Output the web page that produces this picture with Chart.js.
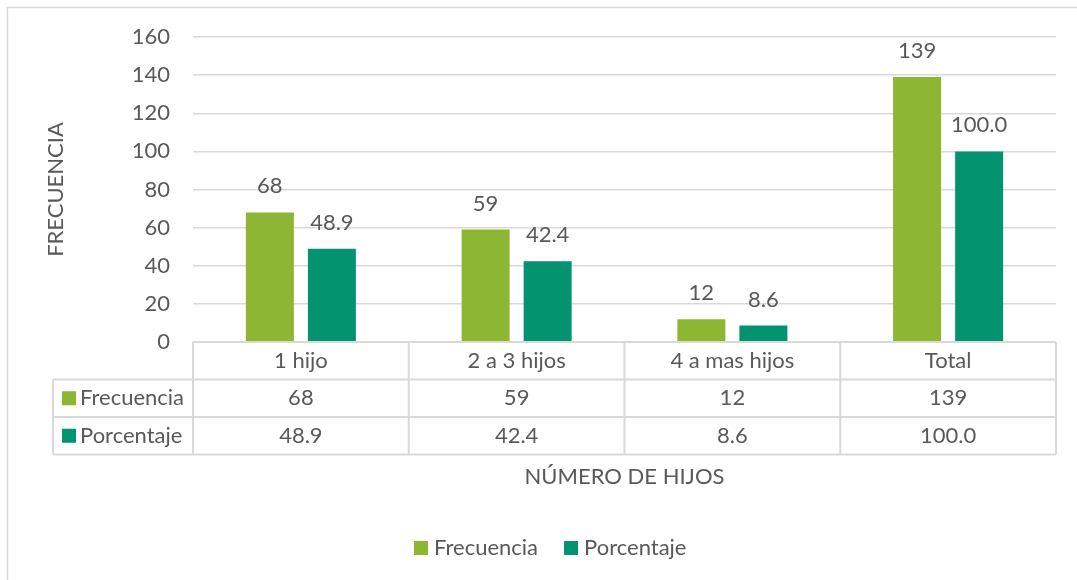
<!DOCTYPE html>
<html>
<head>
<meta charset="utf-8">
<script src="https://cdn.jsdelivr.net/npm/chart.js@4.4.1/dist/chart.umd.min.js"></script>
<style>
  html, body { margin: 0; padding: 0; background: #ffffff; }
  #wrap { width: 1077px; height: 580px; position: relative; }
</style>
</head>
<body>
<div id="wrap"><canvas id="hijosChart" width="1077" height="580"></canvas></div>
<script>
// data
const categories = ['1 hijo', '2 a 3 hijos', '4 a mas hijos', 'Total'];
const frecuencia = [68, 59, 12, 139];
const porcentaje = [48.9, 42.4, 8.6, 100.0];
const seriesNames = ['Frecuencia', 'Porcentaje'];
const yMin = 0;
const yMax = 160;
const yStep = 20;

const GREEN = '#8db733';
const TEAL = '#03946f';
const TEXT = '#595959';
const LINE = '#d9d9d9';
const FONT = 'Lato, "Open Sans", sans-serif';
const FSIZE = 22;

function fmt(dsIndex, v) {
    return dsIndex === 1 ? v.toFixed(1) : String(v);
}

// draws the frame, value labels, data table, x title and legend
const extrasPlugin = {
    id: 'extras',
    afterDraw(chart) {
        const ctx = chart.ctx;
        const area = chart.chartArea;
        const xs = chart.scales.x;
        const catW = (area.right - area.left) / categories.length;
        ctx.save();

        // outer frame (right/bottom edges fall outside the picture)
        ctx.strokeStyle = LINE;
        ctx.lineWidth = 1.5;
        ctx.strokeRect(7.5, 7.5, 1200, 700);

        ctx.font = FSIZE + 'px ' + FONT;
        ctx.fillStyle = TEXT;
        ctx.textAlign = 'center';
        ctx.textBaseline = 'middle';

        // value labels above bars
        chart.data.datasets.forEach((ds, i) => {
            chart.getDatasetMeta(i).data.forEach((bar, j) => {
                ctx.fillText(fmt(i, ds.data[j]), bar.x, bar.y - 26);
            });
        });

        // data table
        const rowH = 37.5;
        const top = area.bottom;
        const tableLeft = 53;
        ctx.strokeStyle = LINE;
        ctx.lineWidth = 2;
        ctx.beginPath();
        ctx.moveTo(area.left, top);
        ctx.lineTo(area.right, top);
        for (let r = 1; r <= 3; r++) {
            ctx.moveTo(tableLeft, top + r * rowH);
            ctx.lineTo(area.right, top + r * rowH);
        }
        for (let c = 0; c <= categories.length; c++) {
            const x = area.left + c * catW;
            ctx.moveTo(x, top);
            ctx.lineTo(x, top + 3 * rowH);
        }
        ctx.moveTo(tableLeft, top + rowH);
        ctx.lineTo(tableLeft, top + 3 * rowH);
        ctx.stroke();

        categories.forEach((cat, j) => {
            const cx = xs.getPixelForValue(j);
            ctx.fillText(cat, cx, top + rowH / 2);
            chart.data.datasets.forEach((ds, i) => {
                ctx.fillText(fmt(i, ds.data[j]), cx, top + rowH * (i + 1.5));
            });
        });

        ctx.textAlign = 'left';
        chart.data.datasets.forEach((ds, i) => {
            const cy = top + rowH * (i + 1.5);
            ctx.fillStyle = ds.backgroundColor;
            ctx.fillRect(62, cy - 7, 14, 14);
            ctx.fillStyle = TEXT;
            ctx.fillText(ds.label, 80, cy);
        });

        // x axis title
        ctx.textAlign = 'center';
        ctx.fillText('NÚMERO DE HIJOS', (area.left + area.right) / 2, 477);

        // legend
        const legY = 548;
        let lx = 414;
        ctx.textAlign = 'left';
        chart.data.datasets.forEach((ds) => {
            ctx.fillStyle = ds.backgroundColor;
            ctx.fillRect(lx, legY - 7, 14, 14);
            ctx.fillStyle = TEXT;
            ctx.fillText(ds.label, lx + 20, legY);
            lx += 20 + ctx.measureText(ds.label).width + 26;
        });

        ctx.restore();
    }
};

const ctx = document.getElementById('hijosChart').getContext('2d');
new Chart(ctx, {
    type: 'bar',
    data: {
        labels: categories,
        datasets: [
            {
                label: seriesNames[0],
                data: frecuencia,
                backgroundColor: GREEN,
                categoryPercentage: 0.575,
                barPercentage: 0.774
            },
            {
                label: seriesNames[1],
                data: porcentaje,
                backgroundColor: TEAL,
                categoryPercentage: 0.575,
                barPercentage: 0.774
            }
        ]
    },
    options: {
        responsive: false,
        animation: false,
        layout: {
            padding: { left: 0, top: 37, right: 21, bottom: 238 }
        },
        plugins: {
            legend: { display: false },
            tooltip: { enabled: false }
        },
        scales: {
            x: {
                display: false
            },
            y: {
                min: yMin,
                max: yMax,
                ticks: {
                    stepSize: yStep,
                    padding: 23,
                    color: TEXT,
                    font: { family: FONT, size: FSIZE }
                },
                grid: {
                    color: LINE,
                    lineWidth: 1.5,
                    drawTicks: false
                },
                border: { display: false },
                title: {
                    display: true,
                    text: 'FRECUENCIA',
                    color: TEXT,
                    font: { family: FONT, size: FSIZE },
                    padding: { top: 43, bottom: 0 }
                },
                afterFit(scale) {
                    scale.width = 193;
                }
            }
        }
    },
    plugins: [extrasPlugin]
});
</script>
</body>
</html>
